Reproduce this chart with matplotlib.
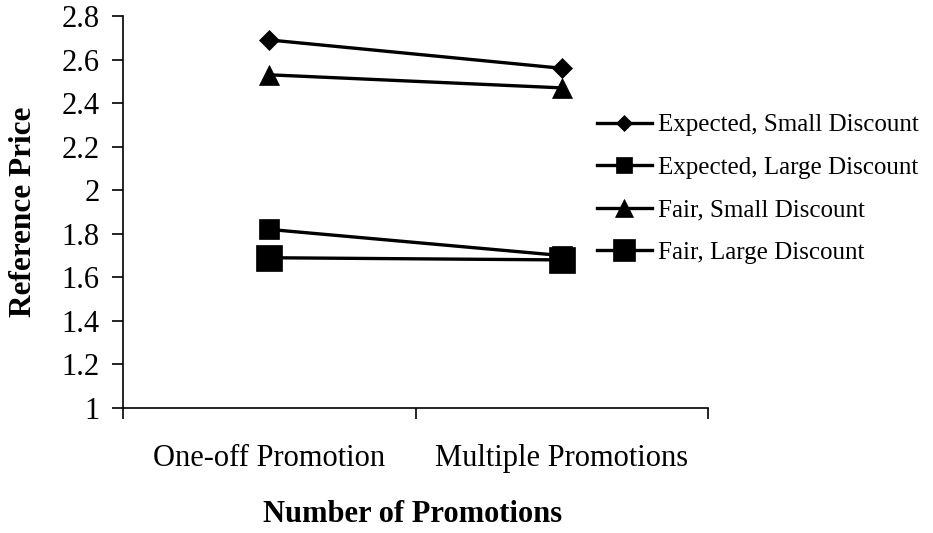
import matplotlib.pyplot as plt
from matplotlib.ticker import FixedLocator, NullFormatter

plt.rcParams["font.family"] = ["Liberation Serif", "DejaVu Serif"]

categories = ["One-off Promotion", "Multiple Promotions"]
series_names = [
    "Expected, Small Discount",
    "Expected, Large Discount",
    "Fair, Small Discount",
    "Fair, Large Discount",
]
expected_small = [2.69, 2.56]
expected_large = [1.82, 1.70]
fair_small = [2.53, 2.47]
fair_large = [1.69, 1.68]

fig = plt.figure(figsize=(9.33, 5.33), dpi=100)
ax = fig.add_axes([123 / 933, 1 - 408 / 533, 585 / 933, 392 / 533])

xpos = [0.5, 1.5]
styles = [("D", 10.5), ("s", 14), ("^", 15), ("s", 19)]
for vals, name, (mk, ms) in zip(
    [expected_small, expected_large, fair_small, fair_large], series_names, styles
):
    ax.plot(xpos, vals, color="black", lw=2.4, marker=mk, markersize=ms,
            markeredgewidth=0.5, label=name)

ax.set_xlim(0, 2)
ax.set_ylim(1, 2.8)
ax.set_yticks([1 + 0.2 * i for i in range(10)])
ax.set_yticklabels(["1", "1.2", "1.4", "1.6", "1.8", "2", "2.2", "2.4", "2.6", "2.8"])
ax.xaxis.set_major_locator(FixedLocator([0, 1, 2]))
ax.xaxis.set_major_formatter(NullFormatter())
ax.xaxis.set_minor_locator(FixedLocator(xpos))
ax.set_xticklabels(categories, minor=True)
ax.tick_params(axis="x", which="minor", length=0, pad=26, labelsize=22)
ax.tick_params(axis="x", which="major", direction="out", length=8, width=1.2)
ax.tick_params(axis="y", direction="out", length=8, width=1.2, labelsize=22, pad=9)

for s in ["top", "right"]:
    ax.spines[s].set_visible(False)
for s in ["left", "bottom"]:
    ax.spines[s].set_linewidth(1.2)

fig.text(24 / 933, 1 - 212 / 533, "Reference Price", fontsize=22.5,
         fontweight="bold", rotation=90, ha="center", va="center")
fig.text(413 / 933, 1 - 514 / 533, "Number of Promotions", fontsize=22,
         fontweight="bold", ha="center", va="center")

fig.legend(loc="center left", bbox_to_anchor=(584 / 933, 1 - 189 / 533),
           frameon=False, fontsize=18, handlelength=2.2, handletextpad=0.28,
           labelspacing=0.8, borderpad=0, markerscale=0.82)

fig.savefig("out.png", dpi=100)
